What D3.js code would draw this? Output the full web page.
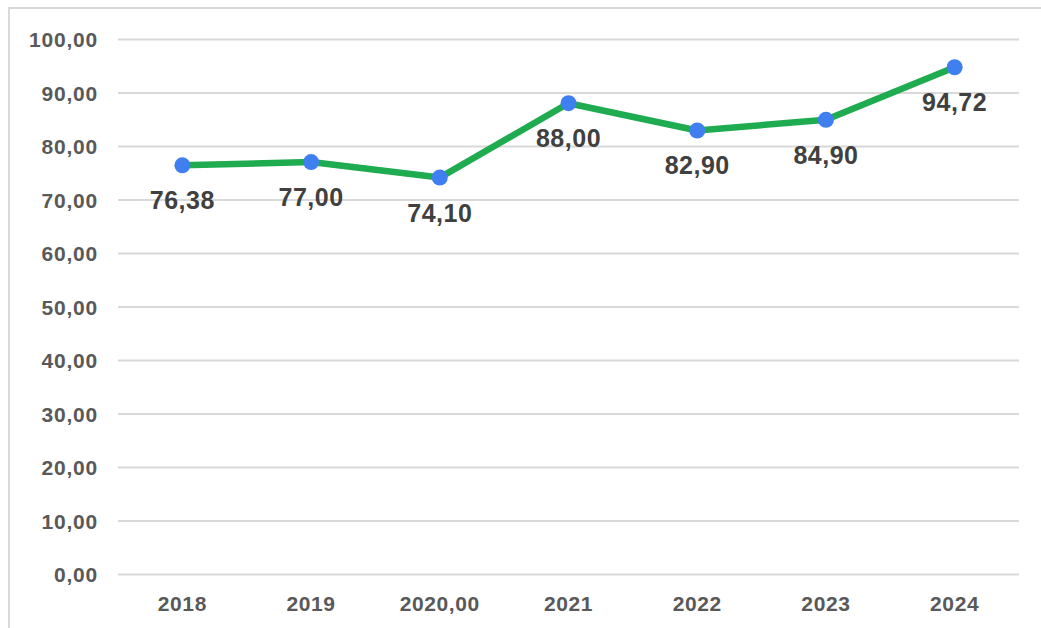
<!DOCTYPE html>
<html>
<head>
<meta charset="utf-8">
<script src="https://cdn.jsdelivr.net/npm/d3@7"></script>
<style>
  html, body { margin: 0; padding: 0; background: #fff; }
  svg { display: block; font-family: "Liberation Sans", Arial, sans-serif; }
</style>
</head>
<body>
<svg id="chart" width="1041" height="628"></svg>
<script>
// Yearly series
const categories = ["2018", "2019", "2020,00", "2021", "2022", "2023", "2024"];
const values = [76.38, 77.00, 74.10, 88.00, 82.90, 84.90, 94.72];
const yTicks = [0, 10, 20, 30, 40, 50, 60, 70, 80, 90, 100];

const svg = d3.select("#chart");
const W = 1041, H = 628;
const plot = { left: 118, right: 1019, top: 39, bottom: 574 };

// Outer frame (open on the right and bottom)
svg.append("path")
  .attr("d", `M9,${H + 5} L9,8 L${W + 5},8`)
  .attr("fill", "none")
  .attr("stroke", "#d9d9d9")
  .attr("stroke-width", 2);

const x = d3.scaleBand().domain(categories).range([plot.left, plot.right]);
const y = d3.scaleLinear().domain([0, 100]).range([plot.bottom, plot.top]);

const fmt = v => d3.format(".2f")(v).replace(".", ",");

// Horizontal gridlines with value labels
const yAxis = d3.axisLeft(y)
  .tickValues(yTicks)
  .tickSize(-(plot.right - plot.left))
  .tickPadding(20)
  .tickFormat(fmt);

const gy = svg.append("g")
  .attr("transform", `translate(${plot.left},0)`)
  .call(yAxis);
gy.select(".domain").remove();
gy.selectAll(".tick line").attr("stroke", "#d9d9d9").attr("stroke-width", 2);
gy.selectAll(".tick text")
  .attr("fill", "#595959")
  .attr("font-size", 21)
  .attr("font-weight", "bold")
  .attr("letter-spacing", 0.8)
  .attr("dy", "0.36em");

// Category labels
const xAxis = d3.axisBottom(x).tickSize(0).tickPadding(22);
const gx = svg.append("g")
  .attr("transform", `translate(0,${plot.bottom})`)
  .call(xAxis);
gx.select(".domain").remove();
gx.selectAll(".tick text")
  .attr("fill", "#595959")
  .attr("font-size", 21)
  .attr("font-weight", "bold")
  .attr("letter-spacing", 0.6);

const cx = d => x(d) + x.bandwidth() / 2;
const pts = categories.map((c, i) => ({ c, v: values[i] }));

// Series line
svg.append("path")
  .datum(pts)
  .attr("fill", "none")
  .attr("stroke", "#1fab4f")
  .attr("stroke-width", 6.5)
  .attr("stroke-linejoin", "round")
  .attr("stroke-linecap", "round")
  .attr("d", d3.line().x(d => cx(d.c)).y(d => y(d.v)));

// Point markers
svg.append("g").selectAll("circle")
  .data(pts)
  .join("circle")
  .attr("cx", d => cx(d.c))
  .attr("cy", d => y(d.v))
  .attr("r", 8)
  .attr("fill", "#3f7ff0");

// Value labels below each point
svg.append("g").selectAll("text")
  .data(pts)
  .join("text")
  .attr("x", d => cx(d.c))
  .attr("y", d => y(d.v) + 44)
  .attr("text-anchor", "middle")
  .attr("fill", "#404040")
  .attr("font-size", 25)
  .attr("font-weight", "bold")
  .attr("letter-spacing", 0.5)
  .text(d => fmt(d.v));
</script>
</body>
</html>
